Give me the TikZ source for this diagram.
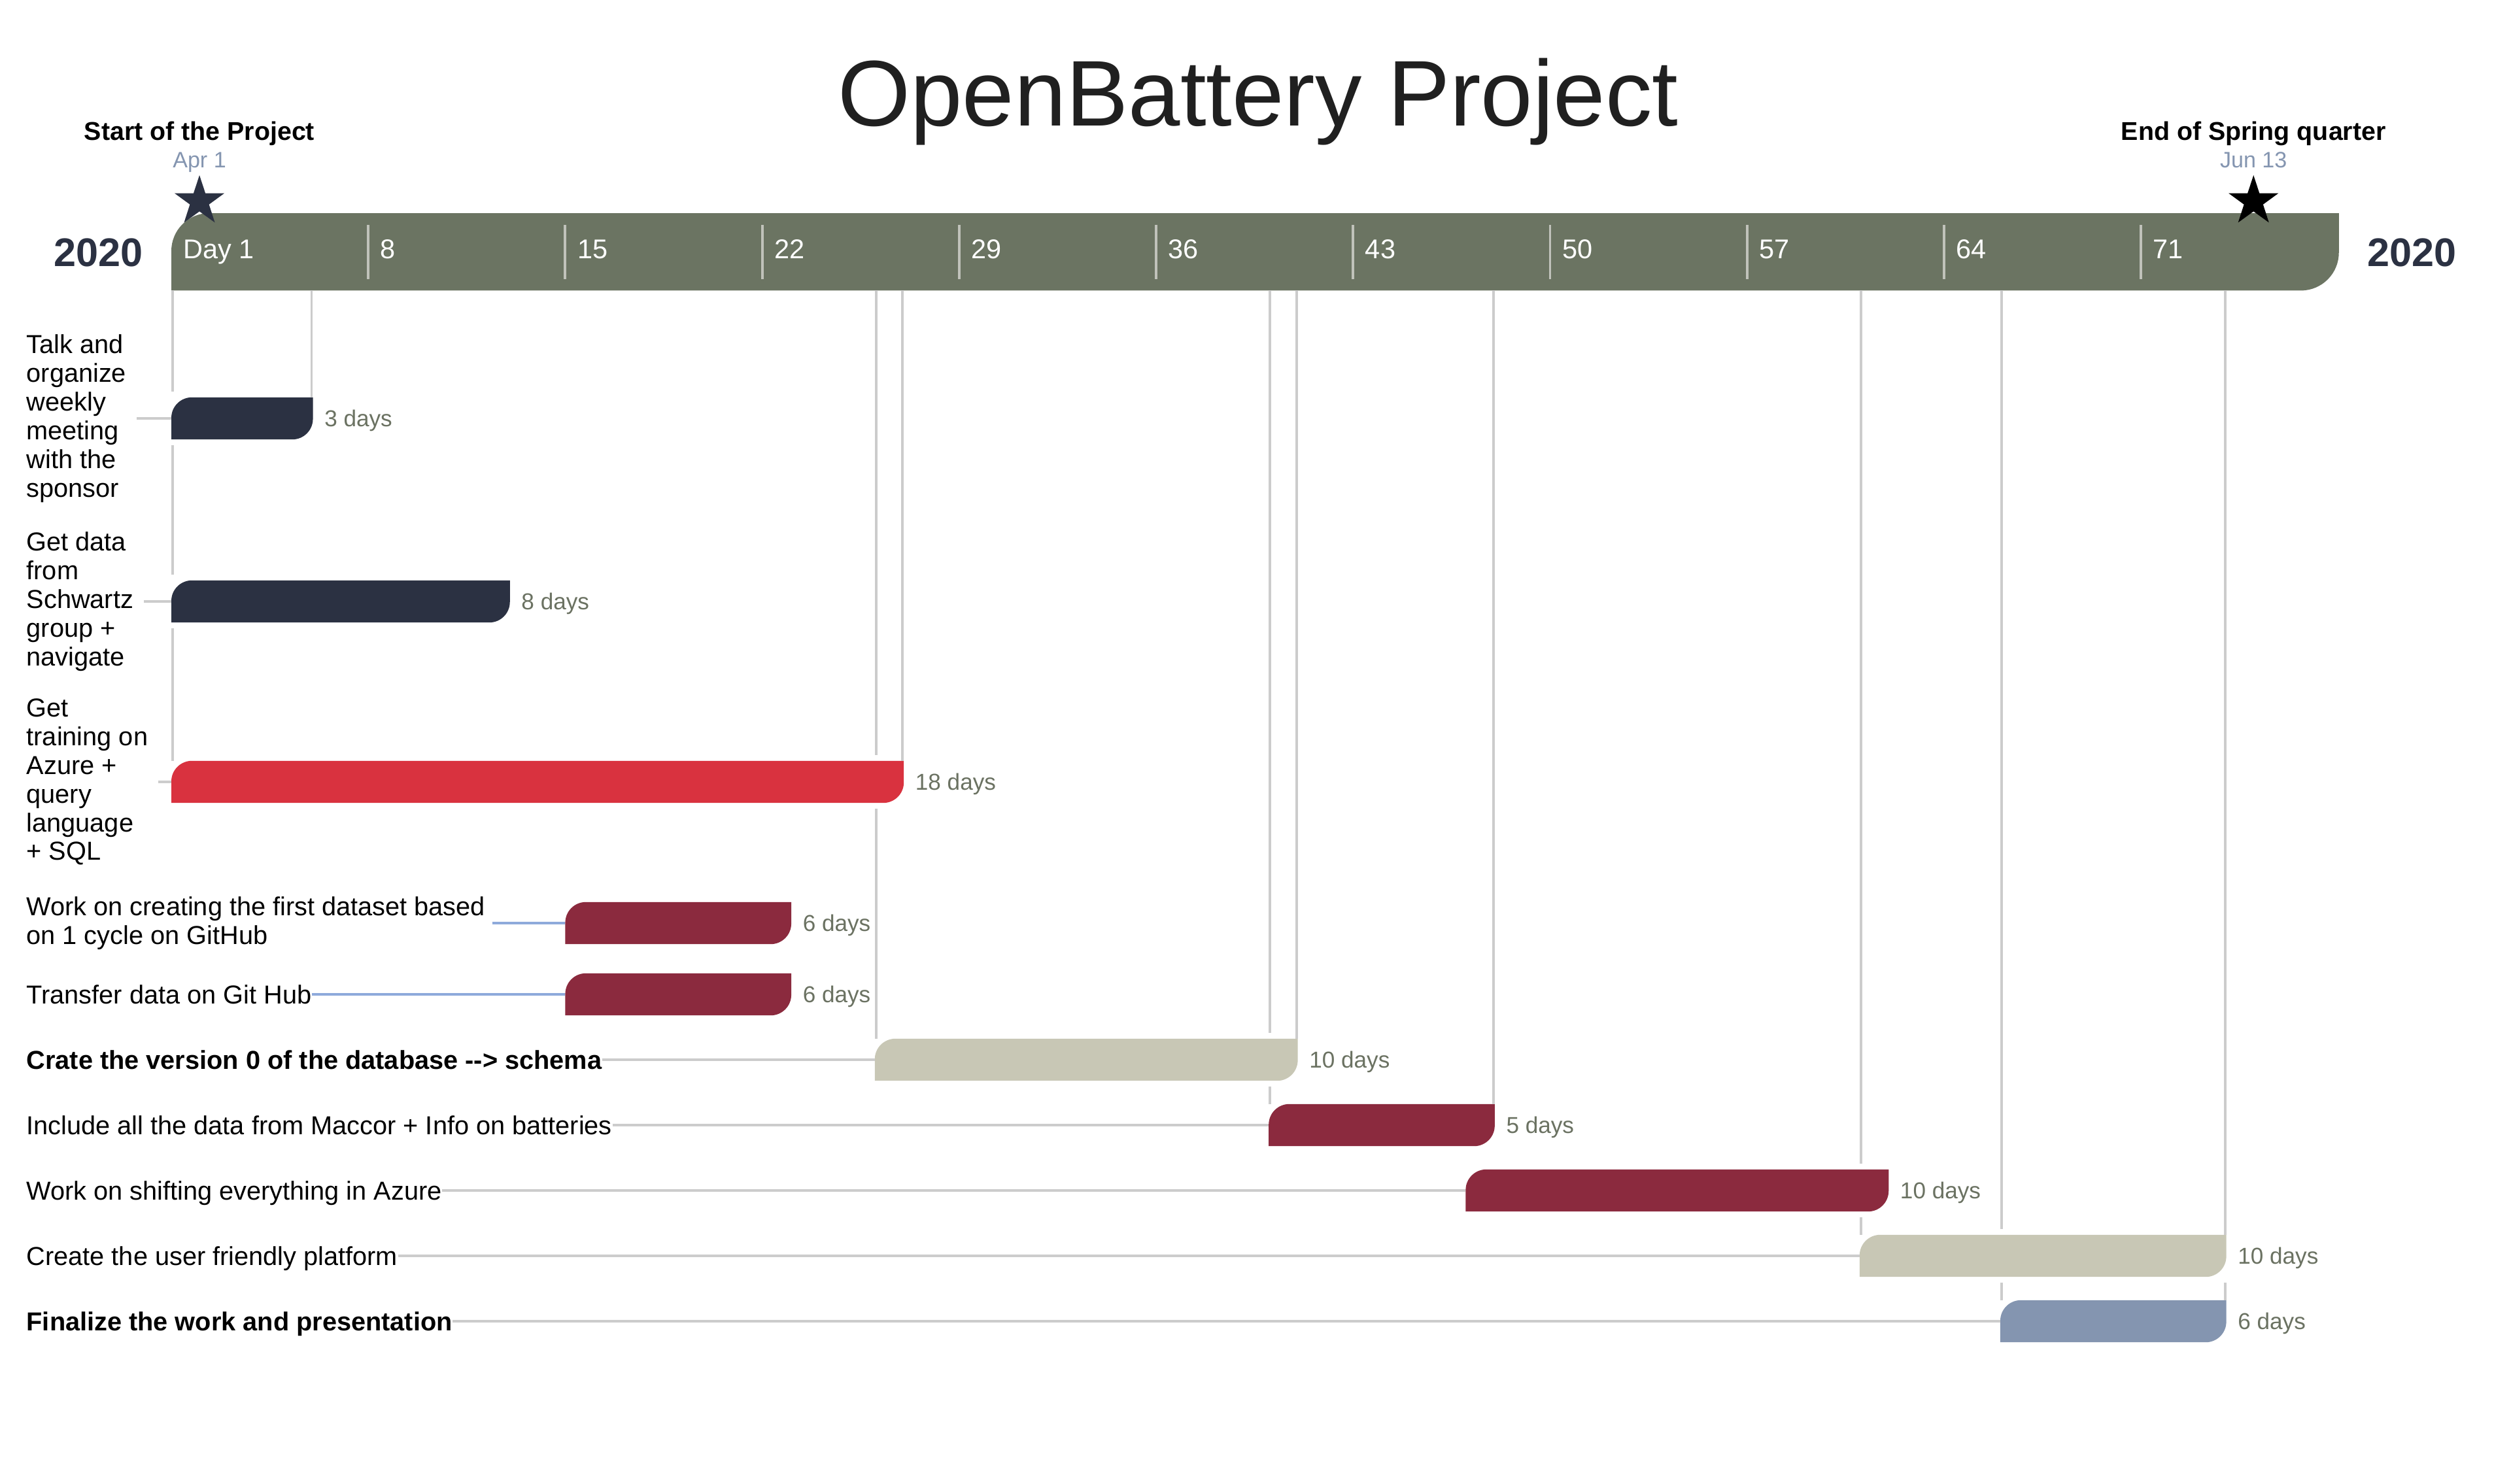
\documentclass[tikz,border=0pt]{standalone}
\usepackage{fontspec}
\setmainfont{Liberation Sans}
\usetikzlibrary{calc, positioning, shapes.geometric}

\definecolor{bandgreen}{HTML}{6B7462}
\definecolor{navy}{HTML}{2B3142}
\definecolor{redbar}{HTML}{D9323F}
\definecolor{wine}{HTML}{8B2A3E}
\definecolor{sand}{HTML}{C8C7B5}
\definecolor{slate}{HTML}{8495B0}
\definecolor{linegray}{HTML}{CCCCCC}
\definecolor{linkblue}{HTML}{8EAADB}
\definecolor{daytext}{HTML}{6B7262}
\definecolor{tickgray}{HTML}{C0C2BA}
\definecolor{titlegray}{HTML}{202020}

% x of the start of a day (offset from Apr 1)
\newcommand{\dayx}[1]{2.62+#1*0.4303}
\newcommand{\gapv}{0.09}

% round top-left and bottom-right corner: node, colour, radius
\newcommand{\tabfill}[3]{%
  \fill[#2] (#1.south west) -- ([yshift=-#3]#1.north west)
    arc[start angle=180, end angle=90, radius=#3] -- (#1.north east)
    -- ([yshift=#3]#1.south east) arc[start angle=0, end angle=-90, radius=#3] -- cycle;}

% task bar: name, colour, first day offset, last day offset, centre y
\newcommand{\taskbar}[5]{%
  \node[inner sep=0, minimum height=6.3mm, minimum width={(#4-#3)*4.303mm}, anchor=west] (#1) at ({\dayx{#3}},#5) {};
  \tabfill{#1}{#2}{3.15mm}
  \coordinate (#1-s) at ([xshift=0.2mm]#1.north west);
  \coordinate (#1-e) at ([xshift=-0.2mm]#1.north east);}

\begin{document}
\begin{tikzpicture}[
  dayline/.style={draw=linegray, line width=1.1pt},
  leader/.style={draw=linegray, line width=1pt},
  blueleader/.style={draw=linkblue, line width=1pt},
  tick/.style={draw=tickgray, line width=1.1pt},
  tasklbl/.style={anchor=west, inner sep=0, font=\fontsize{11.3}{12.5}\selectfont, text height=2.85mm, text depth=0pt},
  tasklong/.style={anchor=west, inner xsep=1.5mm, inner ysep=0, align=left, font=\fontsize{11.3}{12.5}\selectfont},
  dayslbl/.style={anchor=west, inner sep=0, font=\fontsize{10}{12}\selectfont, text=daytext, text height=2.5mm, text depth=0pt},
  scalelbl/.style={anchor=base west, inner sep=0, text=white, font=\fontsize{11.8}{14}\selectfont},
  yearlbl/.style={inner sep=0, text=navy, font=\bfseries\fontsize{17.4}{20}\selectfont, text height=4.4mm, text depth=0pt},
  milestone/.style={star, star points=5, star point ratio=2.6, inner sep=0, minimum size=8mm},
  mstitle/.style={anchor=base, inner sep=0, font=\bfseries\fontsize{11.2}{13}\selectfont},
  msdate/.style={anchor=base, inner sep=0, text=slate, font=\fontsize{9.7}{12}\selectfont}
]
\useasboundingbox (0,0) rectangle (38.4,-22.69);

% Title
\node[anchor=base, inner sep=0, text=titlegray, font=\fontsize{40.6}{48}\selectfont] (title) at (19.24,-1.93) {OpenBattery Project};

% Time scale
\node[inner sep=0, minimum height=11.7mm, minimum width=331.33mm, anchor=north west] (band) at (2.62,-3.26) {};
\tabfill{band}{bandgreen}{5.8mm}
\node[scalelbl] (d0) at (2.80,-3.95) {Day 1};
\foreach \k in {7,14,...,70} {
  \pgfmathtruncatemacro{\dnum}{\k+1}
  \draw[tick] ({\dayx{\k}},-3.44) -- ({\dayx{\k}},-4.27);
  \node[scalelbl] (d\k) at ({\dayx{\k}+0.18},-3.95) {\dnum};
}
\node[yearlbl, anchor=east] (yleft) at ([xshift=-4.3mm]band.west) {2020};
\node[yearlbl, anchor=west] (yright) at ([xshift=4.3mm]band.east) {2020};

% Milestones
\node[milestone, fill=navy] (m1) at ({\dayx{1}},-3.08) {};
\node[mstitle] (m1t) at ({\dayx{1}},-2.15) {Start of the Project};
\node[msdate] (m1d) at ({\dayx{1}},-2.56) {Apr 1};
\node[milestone, fill=black] (m2) at ({\dayx{74}},-3.08) {};
\node[mstitle] (m2t) at ({\dayx{74}},-2.15) {End of Spring quarter};
\node[msdate] (m2d) at ({\dayx{74}},-2.56) {Jun 13};

% Task bars
\taskbar{b1}{navy}{0}{5}{-6.40}
\taskbar{b2}{navy}{0}{12}{-9.20}
\taskbar{b3}{redbar}{0}{26}{-11.96}
\taskbar{b4}{wine}{14}{22}{-14.12}
\taskbar{b5}{wine}{14}{22}{-15.21}
\taskbar{b6}{sand}{25}{40}{-16.21}
\taskbar{b7}{wine}{39}{47}{-17.21}
\taskbar{b8}{wine}{46}{61}{-18.21}
\taskbar{b9}{sand}{60}{73}{-19.21}
\taskbar{b10}{slate}{65}{73}{-20.21}

% Day lines down from the scale
\draw[dayline] (band.south -| b3-s) -- ($(b1.north -| b3-s)+(0,\gapv)$)
  ($(b1.south -| b3-s)-(0,\gapv)$) -- ($(b2.north -| b3-s)+(0,\gapv)$)
  ($(b2.south -| b3-s)-(0,\gapv)$) -- (b3-s);
\draw[dayline] (band.south -| b1-e) -- (b1-e);
\draw[dayline] (band.south -| b3-e) -- (b3-e);
\draw[dayline] (band.south -| b6-s) -- ($(b3.north -| b6-s)+(0,\gapv)$)
  ($(b3.south -| b6-s)-(0,\gapv)$) -- (b6-s);
\draw[dayline] (band.south -| b6-e) -- (b6-e);
\draw[dayline] (band.south -| b7-s) -- ($(b6.north -| b7-s)+(0,\gapv)$)
  ($(b6.south -| b7-s)-(0,\gapv)$) -- (b7-s);
\draw[dayline] (band.south -| b7-e) -- (b7-e);
\draw[dayline] (band.south -| b9-s) -- ($(b8.north -| b9-s)+(0,\gapv)$)
  ($(b8.south -| b9-s)-(0,\gapv)$) -- (b9-s);
\draw[dayline] (band.south -| b10-s) -- ($(b9.north -| b10-s)+(0,\gapv)$)
  ($(b9.south -| b10-s)-(0,\gapv)$) -- (b10-s);
\draw[dayline] (band.south -| b9-e) -- (b9-e)
  ($(b9.south -| b10-e)-(0,\gapv)$) -- (b10-e);

% Task names
\node[tasklong] (t1) at (0.25,-6.40) {Talk and\\organize\\weekly\\meeting\\with the\\sponsor};
\node[tasklong] (t2) at (0.25,-9.20) {Get data\\from\\Schwartz\\group +\\navigate};
\node[tasklong] (t3) at (0.25,-11.96) {Get\\training on\\Azure +\\query\\language\\+ SQL};
\node[tasklong, inner xsep=1mm] (t4) at (0.30,-14.12) {Work on creating the first dataset based\\on 1 cycle on GitHub};
\node[tasklbl] (t5) at (0.40,-15.21) {Transfer data on Git Hub};
\node[tasklbl, font=\bfseries\fontsize{11.3}{12.5}\selectfont] (t6) at (0.40,-16.21) {Crate the version 0 of the database -{}-> schema};
\node[tasklbl] (t7) at (0.40,-17.21) {Include all the data from Maccor + Info on batteries};
\node[tasklbl] (t8) at (0.40,-18.21) {Work on shifting everything in Azure};
\node[tasklbl] (t9) at (0.40,-19.21) {Create the user friendly platform};
\node[tasklbl, font=\bfseries\fontsize{11.3}{12.5}\selectfont] (t10) at (0.40,-20.21) {Finalize the work and presentation};

% Leaders from names to bars
\draw[leader] (t1) -- (b1);
\draw[leader] (t2) -- (b2);
\draw[leader] (t3) -- (b3);
\draw[blueleader] (t4) -- (b4);
\draw[blueleader] (t5) -- (b5);
\draw[leader] (t6) -- (b6);
\draw[leader] (t7) -- (b7);
\draw[leader] (t8) -- (b8);
\draw[leader] (t9) -- (b9);
\draw[leader] (t10) -- (b10);

% Durations
\node[dayslbl, right=1.7mm of b1] (l1) {3 days};
\node[dayslbl, right=1.7mm of b2] (l2) {8 days};
\node[dayslbl, right=1.7mm of b3] (l3) {18 days};
\node[dayslbl, right=1.7mm of b4] (l4) {6 days};
\node[dayslbl, right=1.7mm of b5] (l5) {6 days};
\node[dayslbl, right=1.7mm of b6] (l6) {10 days};
\node[dayslbl, right=1.7mm of b7] (l7) {5 days};
\node[dayslbl, right=1.7mm of b8] (l8) {10 days};
\node[dayslbl, right=1.7mm of b9] (l9) {10 days};
\node[dayslbl, right=1.7mm of b10] (l10) {6 days};
\end{tikzpicture}
\end{document}
